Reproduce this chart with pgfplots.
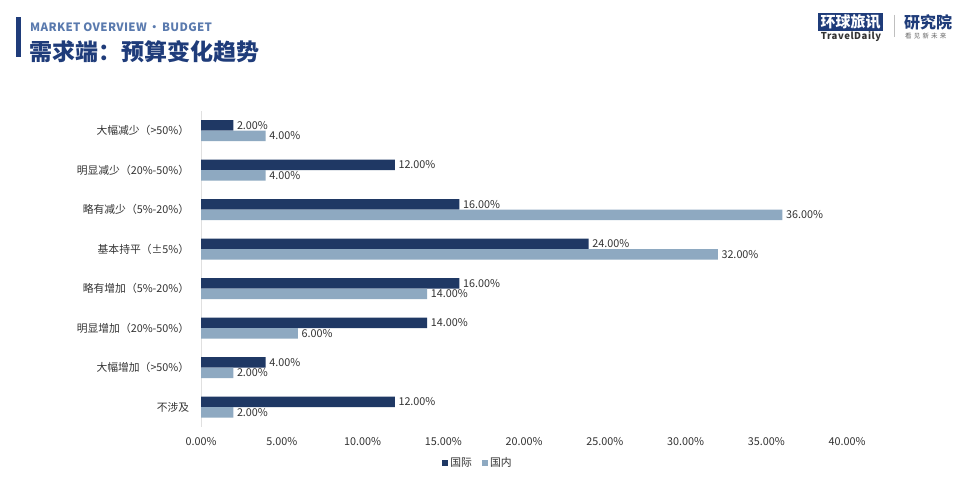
\documentclass[border=0pt]{standalone}
\usepackage{fontspec}
\setmainfont{Noto Sans CJK SC}
\usepackage{pgfplots}
\pgfplotsset{compat=1.18}
\usepackage{pgfplotstable}

\definecolor{navy}{HTML}{1F3864}
\definecolor{lightblue}{HTML}{8EA9C1}
\definecolor{titleblue}{HTML}{1F3C7A}
\definecolor{subblue}{HTML}{5A7AAE}
\definecolor{txt}{HTML}{333333}

% budget change by category; idx 7 = top row
\pgfplotstableread{
idx intl dom
7 2  4
6 12 4
5 16 36
4 24 32
3 16 14
2 14 6
1 4  2
0 12 2
}\budget

\begin{document}
\begin{tikzpicture}[x=1bp,y=1bp]
\path[use as bounding box,fill=white] (0,0) rectangle (960,488);

% header
\fill[titleblue] (16,471) rectangle (21,431);
\node[anchor=west,inner sep=0,text=subblue,font=\fontsize{11.5bp}{14bp}\selectfont\bfseries\addfontfeatures{LetterSpace=3}] at (30,461) {MARKET OVERVIEW\,•\,BUDGET};
\node[anchor=west,inner sep=0,text=titleblue,font=\fontsize{23bp}{26bp}\selectfont\bfseries] at (29,436) {需求端：预算变化趋势};

% logo
\fill[titleblue] (818,475) rectangle (883,457);
\node[inner sep=0,text=white,font=\fontsize{15bp}{17bp}\selectfont\bfseries] at (850.5,466) {环球旅讯};
\node[inner sep=0,text=black!80,font=\fontsize{9.5bp}{11bp}\selectfont\bfseries\addfontfeatures{LetterSpace=6}] at (851,451) {TravelDaily};
\draw[black!25,line width=0.6bp] (894,473) -- (894,451);
\node[anchor=west,inner sep=0,text=titleblue,font=\fontsize{16bp}{18bp}\selectfont\bfseries] at (904,466) {研究院};
\node[anchor=west,inner sep=0,text=black!60,font=\fontsize{6.5bp}{8bp}\selectfont] at (905,451.5) {看\,\,见\,\,新\,\,未\,\,来};

\begin{axis}[
  at={(201bp,61bp)}, anchor=south west,
  scale only axis, width=646bp, height=316bp,
  xbar, bar width=10.5bp,
  xmin=0, xmax=40, ymin=-0.5, ymax=7.5,
  xtick={0,5,...,40},
  xticklabel={\pgfmathprintnumber[fixed,fixed zerofill,precision=2]{\tick}\%},
  /pgf/number format/assume math mode=true,
  ytick={0,...,7},
  yticklabels={不涉及,大幅增加（>50\%）,明显增加（20\%-50\%）,略有增加（5\%-20\%）,基本持平（±5\%）,略有减少（5\%-20\%）,明显减少（20\%-50\%）,大幅减少（>50\%）},
  axis x line*=bottom, axis y line*=left,
  x axis line style={draw=none,-},
  y axis line style={draw=black!12,-,line width=0.8bp},
  tick style={draw=none},
  ticklabel style={font=\fontsize{10.8bp}{12bp}\selectfont, text=txt},
  yticklabel style={xshift=-4bp},
  xticklabel style={yshift=-7bp},
  nodes near coords={\pgfmathprintnumber[fixed,fixed zerofill,precision=2]{\pgfplotspointmeta}\%},
  point meta=x,
  nodes near coords style={font=\fontsize{10.8bp}{12bp}\selectfont, text=txt, anchor=west, inner sep=0, xshift=3.5bp},
  legend style={at={(0.4288,-0.114)}, anchor=center, legend columns=2, draw=none, fill=none,
    font=\fontsize{10.8bp}{12bp}\selectfont, text=txt,
    /tikz/every even column/.append style={column sep=8bp}},
  legend image code/.code={\path[#1,draw=none] (0bp,-3bp) rectangle (6bp,3bp);},
  clip=false,
]
\addplot[fill=navy, draw=none, bar shift=5.25bp] table[x=intl,y=idx] {\budget};
\addplot[fill=lightblue, draw=none, bar shift=-5.25bp] table[x=dom,y=idx] {\budget};
\legend{国际,国内}
\end{axis}
\end{tikzpicture}
\end{document}
